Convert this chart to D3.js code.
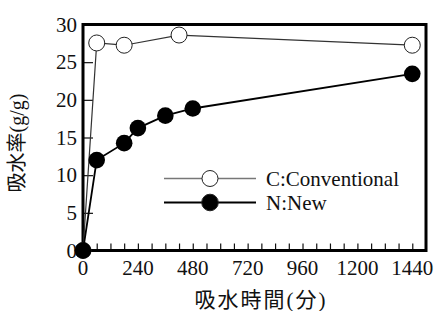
<!DOCTYPE html>
<html>
<head>
<meta charset="utf-8">
<script src="https://cdn.jsdelivr.net/npm/d3@7"></script>
<style>
	body { margin: 0; background: #fff; }
	svg { display: block; }
	text { font-family: "Liberation Serif", "Noto Sans CJK JP", serif; fill: #111; }
</style>
</head>
<body>
<svg id="chart" width="437" height="311"></svg>
<script>
// time in minutes
var timeC = [0, 60, 180, 420, 1440];
var valC = [0, 27.55, 27.25, 28.6, 27.25];
var timeN = [0, 60, 180, 240, 360, 480, 1440];
var valN = [0, 12.0, 14.25, 16.25, 17.9, 18.85, 23.45];
var xLabels = [0, 240, 480, 720, 960, 1200, 1440];
var yLabels = [0, 5, 10, 15, 20, 25, 30];
var legendNames = ["C:Conventional", "N:New"];

var svg = d3.select("#chart");
var plotL = 83, plotR = 426, plotT = 24.5, plotB = 250.5;

var x = d3.scaleLinear().domain([0, 1500]).range([plotL, plotR]);
var y = d3.scaleLinear().domain([0, 30]).range([plotB, plotT]);

// x ticks, inward, every 60 min
var xAxis = d3.axisTop(x)
	.tickValues(d3.range(0, 1441, 60))
	.tickSize(7)
	.tickFormat("");
svg.append("g")
	.attr("transform", "translate(0," + plotB + ")")
	.call(xAxis)
	.call(function(g) {
		g.select(".domain").remove();
		g.selectAll("line").attr("stroke", "#111").attr("stroke-width", 1.2);
	});

var yAxis = d3.axisRight(y)
	.tickValues(yLabels)
	.tickSize(10)
	.tickFormat("");
svg.append("g")
	.attr("transform", "translate(" + plotL + ",0)")
	.call(yAxis)
	.call(function(g) {
		g.select(".domain").remove();
		g.selectAll("line").attr("stroke", "#111").attr("stroke-width", 1.2);
	});

// tick labels
svg.selectAll(".xlab")
	.data(xLabels)
	.enter()
	.append("text")
	.attr("class", "xlab")
	.attr("x", function(d) { return x(d); })
	.attr("y", 275)
	.attr("text-anchor", "middle")
	.style("font-size", "21px")
	.text(function(d) { return d; });

svg.selectAll(".ylab")
	.data(yLabels)
	.enter()
	.append("text")
	.attr("class", "ylab")
	.attr("x", 77)
	.attr("y", function(d) { return y(d) + 7; })
	.attr("text-anchor", "end")
	.style("font-size", "21px")
	.text(function(d) { return d; });

// frame
svg.append("rect")
	.attr("x", plotL)
	.attr("y", plotT)
	.attr("width", plotR - plotL)
	.attr("height", plotB - plotT)
	.attr("fill", "none")
	.attr("stroke", "#000")
	.attr("stroke-width", 3);

var line = d3.line()
	.x(function(d) { return x(d[0]); })
	.y(function(d) { return y(d[1]); });

var ptsC = d3.zip(timeC, valC);
var ptsN = d3.zip(timeN, valN);

svg.append("path")
	.datum(ptsC)
	.attr("d", line)
	.attr("fill", "none")
	.attr("stroke", "#333")
	.attr("stroke-width", 1.2);

svg.selectAll(".ptC")
	.data(ptsC)
	.enter()
	.append("circle")
	.attr("class", "ptC")
	.attr("cx", function(d) { return x(d[0]); })
	.attr("cy", function(d) { return y(d[1]); })
	.attr("r", 8)
	.attr("fill", "#fff")
	.attr("stroke", "#222")
	.attr("stroke-width", 1);

svg.append("path")
	.datum(ptsN)
	.attr("d", line)
	.attr("fill", "none")
	.attr("stroke", "#000")
	.attr("stroke-width", 1.8);

svg.selectAll(".ptN")
	.data(ptsN)
	.enter()
	.append("circle")
	.attr("class", "ptN")
	.attr("cx", function(d) { return x(d[0]); })
	.attr("cy", function(d) { return y(d[1]); })
	.attr("r", 8.3)
	.attr("fill", "#000");

// legend
var legY = [178.5, 202.5];
var leg = svg.selectAll(".leg")
	.data(legendNames)
	.enter()
	.append("g")
	.attr("class", "leg")
	.attr("transform", function(d, i) { return "translate(0," + legY[i] + ")"; });

leg.append("line")
	.attr("x1", 164).attr("x2", 256)
	.attr("stroke", function(d, i) { return i == 0 ? "#777" : "#000"; })
	.attr("stroke-width", function(d, i) { return i == 0 ? 1.3 : 2.2; });

leg.append("circle")
	.attr("cx", 210)
	.attr("r", function(d, i) { return i == 0 ? 8 : 8.3; })
	.attr("fill", function(d, i) { return i == 0 ? "#fff" : "#000"; })
	.attr("stroke", "#222")
	.attr("stroke-width", 1);

leg.append("text")
	.attr("x", 266)
	.attr("y", 7)
	.style("font-size", "21px")
	.text(function(d) { return d; });

// axis titles
svg.append("text")
	.attr("x", 261)
	.attr("y", 307)
	.attr("text-anchor", "middle")
	.style("font-size", "21px")
	.style("letter-spacing", "2px")
	.text("吸水時間(分)");

svg.append("text")
	.attr("transform", "translate(24,143) rotate(-90)")
	.attr("text-anchor", "middle")
	.style("font-size", "20px")
	.text("吸水率(g/g)");
</script>
</body>
</html>
